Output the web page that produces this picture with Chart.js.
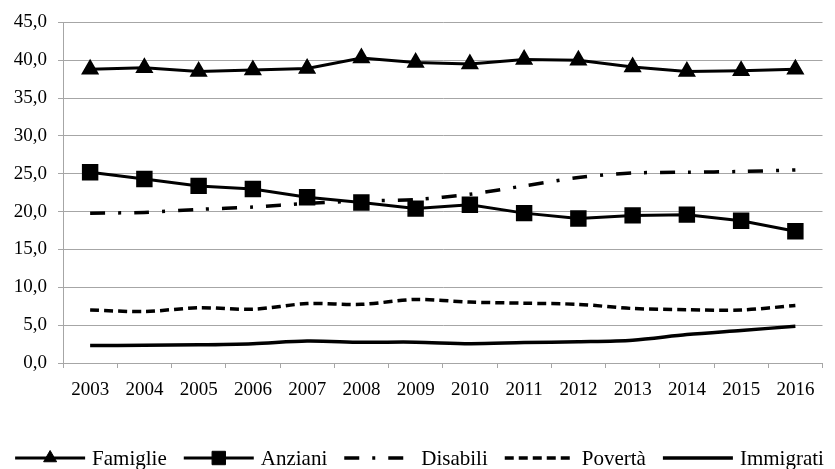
<!DOCTYPE html>
<html>
<head>
<meta charset="utf-8">
<script src="https://cdn.jsdelivr.net/npm/chart.js@4.4.1/dist/chart.umd.min.js"></script>
<style>
  html, body { margin: 0; padding: 0; background: #fff; }
  canvas { display: block; }
</style>
</head>
<body>
<canvas id="trendChart" width="835" height="469"></canvas>
<script>
// anni e serie
const years = ['2003', '2004', '2005', '2006', '2007', '2008', '2009', '2010', '2011', '2012', '2013', '2014', '2015', '2016'];
const famiglie  = [38.8, 39.0, 38.5, 38.7, 38.9, 40.3, 39.7, 39.5, 40.1, 40.0, 39.1, 38.5, 38.6, 38.8];
const anziani   = [25.2, 24.3, 23.4, 23.0, 21.9, 21.2, 20.4, 20.9, 19.8, 19.1, 19.5, 19.6, 18.8, 17.4];
const disabili  = [19.8, 19.9, 20.3, 20.6, 21.1, 21.4, 21.6, 22.3, 23.4, 24.5, 25.1, 25.2, 25.3, 25.5];
const poverta   = [7.0, 6.8, 7.3, 7.1, 7.85, 7.75, 8.4, 8.05, 7.9, 7.75, 7.2, 7.05, 7.0, 7.6];
const immigrati = [2.3, 2.35, 2.4, 2.55, 2.9, 2.75, 2.75, 2.55, 2.7, 2.8, 3.0, 3.75, 4.3, 4.85];

const FONT = "'Liberation Serif', 'Times New Roman', serif";
const GRID = '#a6a6a6';

function line(label, data, extra) {
  return Object.assign({
    label: label,
    data: data,
    borderColor: '#000',
    backgroundColor: '#000',
    borderWidth: 3,
    pointRadius: 0,
    tension: 0,
    fill: false
  }, extra);
}

// legenda disegnata a mano: linea lunga con marker al centro
const lineLegend = {
  id: 'lineLegend',
  afterDraw(chart) {
    const ctx = chart.ctx;
    const sets = chart.data.datasets;
    const lineLen = 70, textGap = 7, itemGap = 17, y = 458;
    ctx.save();
    ctx.font = '21px ' + FONT;
    const widths = sets.map(d => ctx.measureText(d.label).width);
    let total = 0;
    widths.forEach(w => total += lineLen + textGap + w);
    total += itemGap * (sets.length - 1);
    let x = (chart.width - total) / 2 + 2;
    sets.forEach((d, i) => {
      ctx.save();
      ctx.strokeStyle = '#000';
      ctx.lineWidth = d.borderWidth;
      ctx.setLineDash(d.borderDash || []);
      ctx.beginPath();
      ctx.moveTo(x, y);
      ctx.lineTo(x + lineLen, y);
      ctx.stroke();
      ctx.restore();
      if (d.pointRadius > 0) {
        ctx.fillStyle = '#000';
        ctx.strokeStyle = '#000';
        ctx.lineWidth = 1;
        Chart.helpers.drawPoint(ctx, { pointStyle: d.pointStyle, radius: d.pointRadius, borderWidth: 1 }, x + lineLen / 2, y);
      }
      ctx.fillStyle = '#000';
      ctx.textBaseline = 'middle';
      ctx.textAlign = 'left';
      ctx.fillText(d.label, x + lineLen + textGap, y + 1);
      x += lineLen + textGap + widths[i] + itemGap;
    });
    ctx.restore();
  }
};

new Chart(document.getElementById('trendChart').getContext('2d'), {
  type: 'line',
  data: {
    labels: years,
    datasets: [
      line('Famiglie', famiglie, { pointStyle: 'triangle', pointRadius: 7.5, pointHoverRadius: 7.5 }),
      line('Anziani', anziani, { pointStyle: 'rect', pointRadius: 9.5, pointHoverRadius: 9.5 }),
      line('Disabili', disabili, { borderDash: [15, 13, 3, 13], borderWidth: 3.5, tension: 0.3 }),
      line('Povertà', poverta, { borderDash: [9, 5], borderWidth: 3.5, tension: 0.3 }),
      line('Immigrati', immigrati, { borderWidth: 3.5, tension: 0.3 })
    ]
  },
  options: {
    responsive: false,
    animation: false,
    layout: { padding: { top: 14, right: 2, left: 0, bottom: 0 } },
    plugins: {
      legend: { display: false },
      tooltip: { enabled: false }
    },
    scales: {
      x: {
        offset: true,
        grid: { offset: true, drawOnChartArea: false, drawTicks: true, tickLength: 5, color: GRID },
        border: { color: GRID, width: 1 },
        ticks: { color: '#000', font: { family: FONT, size: 19 }, padding: 11, maxRotation: 0 },
        afterFit(scale) { scale.height = 106; }
      },
      y: {
        min: 0,
        max: 45,
        ticks: {
          stepSize: 5,
          color: '#000',
          padding: 11,
          font: { family: FONT, size: 19 },
          callback: v => v.toFixed(1).replace('.', ',')
        },
        grid: { color: GRID, tickLength: 5 },
        border: { color: GRID, width: 1 },
        afterFit(scale) { scale.width = 63; }
      }
    }
  },
  plugins: [lineLegend]
});
</script>
</body>
</html>
